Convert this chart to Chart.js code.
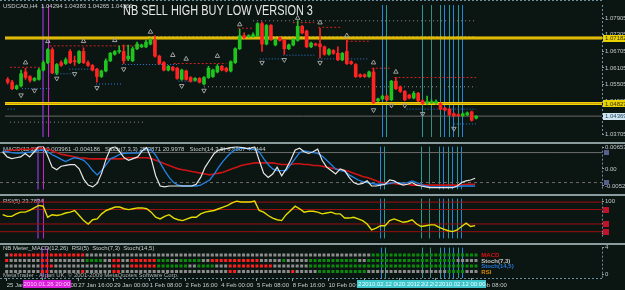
<!DOCTYPE html>
<html><head><meta charset="utf-8">
<script src="https://cdn.jsdelivr.net/npm/chart.js@4/dist/chart.umd.min.js"></script>
<style>
html,body{margin:0;padding:0;background:#0b1512;overflow:hidden}
#wrap{position:relative;width:625px;height:290px;background:#0b1512}
canvas{position:absolute;left:0}
</style></head><body><div id="wrap">
<canvas id="cMain" width="625" height="142" style="top:0px"></canvas>
<canvas id="cMacd" width="625" height="52" style="top:142px"></canvas>
<canvas id="cRsi" width="625" height="49" style="top:194px"></canvas>
<canvas id="cNb" width="625" height="47" style="top:243px"></canvas>
</div>
<script>
// ---------------- DATA ----------------
const open = [1.05694,1.05594,1.05359,1.05460,1.05962,1.05795,1.05661,1.05694,1.06029,1.06297,
1.06766,1.05929,1.06297,1.06264,1.06699,1.06364,1.06297,1.06699,1.06297,1.06197,
1.06063,1.05795,1.05996,1.06364,1.06599,1.06699,1.06699,1.06431,1.06364,1.06800,
1.06867,1.06867,1.06967,1.07101,1.06532,1.06297,1.06029,1.06130,1.06096,1.05694,
1.05996,1.05761,1.05661,1.05728,1.05527,1.05761,1.05795,1.05962,1.06163,1.06096,
1.05996,1.06297,1.06800,1.07269,1.07235,1.07235,1.07269,1.07704,1.06967,1.07637,
1.06934,1.07202,1.07101,1.06800,1.06934,1.07101,1.07604,1.07436,1.06867,1.06967,
1.06967,1.06867,1.06599,1.06733,1.06632,1.06398,1.06699,1.06331,1.06230,1.05862,
1.05862,1.05795,1.05962,1.04924,1.04991,1.05091,1.04957,1.05627,1.05426,1.05259,
1.05125,1.05024,1.05192,1.04924,1.04857,1.04857,1.04857,1.04823,1.04656,1.04622,
1.04455,1.04421,1.04388,1.04421,1.04522,1.04294];
const high = [1.05761,1.05661,1.05493,1.06029,1.06096,1.05828,1.05761,1.06096,1.06364,1.06800,
1.06833,1.06264,1.06364,1.06465,1.06766,1.06532,1.06733,1.06833,1.06364,1.06230,
1.06096,1.06029,1.06431,1.06666,1.06733,1.06900,1.06934,1.06934,1.06867,1.07034,
1.06967,1.07101,1.07168,1.07269,1.06565,1.06331,1.06197,1.06163,1.06130,1.06063,
1.06029,1.05795,1.05761,1.05761,1.05795,1.06163,1.06063,1.06230,1.06197,1.06130,
1.06364,1.06833,1.07503,1.07369,1.07302,1.07369,1.07738,1.07771,1.07671,1.07671,
1.07168,1.07235,1.07135,1.06967,1.07168,1.07805,1.07637,1.07470,1.07034,1.07001,
1.07537,1.06900,1.06800,1.06766,1.06867,1.06666,1.07135,1.06364,1.06264,1.05895,
1.05895,1.05996,1.06096,1.05024,1.05125,1.05125,1.05661,1.05761,1.05460,1.05292,
1.05158,1.05259,1.05225,1.04957,1.05091,1.04957,1.04957,1.04857,1.04689,1.04656,
1.04488,1.04455,1.04488,1.04522,1.04555,1.04383];
const low = [1.05527,1.05326,1.05326,1.05426,1.05694,1.05594,1.05627,1.05661,1.05996,1.06264,
1.05895,1.05862,1.06163,1.06230,1.06264,1.06197,1.06264,1.06264,1.06163,1.05996,
1.05594,1.05761,1.05962,1.06331,1.06565,1.06632,1.06264,1.06364,1.06331,1.06766,
1.06833,1.06833,1.06934,1.06498,1.06230,1.05996,1.05996,1.05996,1.05694,1.05661,
1.05661,1.05594,1.05627,1.05560,1.05493,1.05728,1.05761,1.05929,1.05996,1.05962,
1.05962,1.06264,1.06766,1.07168,1.07202,1.07202,1.07235,1.06699,1.06934,1.07101,
1.06900,1.07068,1.06599,1.06766,1.06900,1.07068,1.07336,1.06833,1.06833,1.06900,
1.06465,1.06565,1.06565,1.06599,1.06364,1.06364,1.06230,1.06230,1.05761,1.05761,
1.05761,1.05761,1.04823,1.04890,1.04957,1.04924,1.04924,1.05326,1.05225,1.04924,
1.04991,1.04991,1.04890,1.04790,1.04790,1.04823,1.04790,1.04589,1.04555,1.04388,
1.04354,1.04354,1.04354,1.04388,1.04187,1.04265];
const close = [1.05594,1.05359,1.05460,1.05895,1.05761,1.05661,1.05728,1.06029,1.06297,1.06766,
1.05929,1.06230,1.06197,1.06398,1.06297,1.06331,1.06699,1.06297,1.06197,1.06029,
1.05795,1.05996,1.06364,1.06632,1.06699,1.06733,1.06364,1.06532,1.06800,1.06967,
1.06934,1.07034,1.07101,1.06532,1.06264,1.06029,1.06163,1.06029,1.05728,1.06029,
1.05694,1.05627,1.05728,1.05594,1.05761,1.06096,1.06029,1.06163,1.06029,1.05996,
1.06331,1.06800,1.07269,1.07202,1.07269,1.07302,1.07704,1.06967,1.07637,1.07135,
1.07101,1.07101,1.06800,1.06934,1.07135,1.07604,1.07369,1.06867,1.07001,1.06934,
1.06867,1.06599,1.06766,1.06632,1.06398,1.06632,1.06264,1.06264,1.05795,1.05795,
1.05795,1.05962,1.04857,1.04991,1.05091,1.04957,1.05627,1.05359,1.05259,1.04957,
1.05024,1.05192,1.04924,1.04823,1.04890,1.04890,1.04890,1.04622,1.04589,1.04421,
1.04388,1.04388,1.04455,1.04488,1.04220,1.04369];

const priceTicks = [1.07905,1.07305,1.06705,1.06105,1.05505,1.04905,1.04305,1.03705];
const priceTickLabels = ['1.07905','1.07305','1.06705','1.06105','1.05505','1.04905','1.04305','1.03705'];
const levelLines = [1.07182, 1.04827];
const levelLabels = ['1.07182', '1.04827'];
const currentPrice = 1.04369;

const fracUpBar = [4,9,17,24,32,37,40,47,52,65,70,76,82,87];
const fracUpPrice = [1.06297,1.07068,1.07068,1.07101,1.07403,1.06565,1.06431,1.06532,1.07671,1.07905,1.07738,1.07269,1.06297,1.05962];
const fracDnBar = [3,6,11,15,20,26,39,44,57,62,70,82,86,89,93,100];
const fracDnPrice = [1.05125,1.05292,1.05728,1.05895,1.05393,1.06063,1.05460,1.05292,1.06297,1.06398,1.06297,1.04589,1.04756,1.04756,1.04455,1.03919];

// dotted levels: [fromBar, toBar, price]
const redSegs = [[0.5,7.2,1.06130],[9.4,31,1.06900],[37.2,49,1.06264],[51.6,55,1.07537],[63.9,68.7,1.07738],[69.6,75,1.07570],[76,81,1.07068],[81.6,86,1.06096],[86.7,105,1.05761]];
const blueSegs = [[0,1.6,1.04622],[3.2,9.4,1.05359],[10.5,14.5,1.05895],[13.8,19,1.06063],[19.8,25.4,1.05527],[25.6,38.3,1.06230],[38.3,44,1.05627],[56.5,61.6,1.06431],[61.8,68.7,1.06565],[69.6,81,1.06431],[81.6,89,1.04857],[89.4,105,1.04622],[100,105,1.04086]];
const graySegs = [[0.5,30.5,1.04153],[31.6,105,1.07235],[55,105,1.07805],[44,105,1.05426]];

const vLineBars = [7.85, 9.0, 83.8, 84.7, 92.9, 94.8, 96.9, 97.9, 98.9, 99.9, 101.0, 101.9];
const vLineLabels = ['', '2010.01.26 20:00', '2010.02.11 20:00', '2010.02.12 00:00', '2010.02.12 04:00', '2010.02.12 08:00', '2010.02.12 12:00', '2010.02.12 16:00', '2010.02.12 20:00', '2010.02.15 00:00', '2010.02.15 04:00', '2010.02.12 00:00'];

const timeBars = [0,8,16,24,32,40,48,56,64,72,80,88,96,104];
const timeLabels = ['25 Jan 2010','26 Jan 08:00','27 Jan 16:00','29 Jan 00:00','1 Feb 08:00','2 Feb 16:00','4 Feb 00:00','5 Feb 08:00','8 Feb 16:00','10 Feb 00:00','11 Feb 08:00','12 Feb 16:00','16 Feb 00:00','17 Feb 08:00'];

// MACD window
const macd = [0.00522,0.00548,0.00574,0.00574,0.00600,0.00600,0.00600,0.00626,0.00626,0.00626,
0.00600,0.00548,0.00496,0.00444,0.00418,0.00392,0.00365,0.00339,0.00326,0.00313,
0.00305,0.00305,0.00305,0.00305,0.00305,0.00305,0.00305,0.00313,0.00339,0.00339,
0.00339,0.00339,0.00339,0.00313,0.00261,0.00209,0.00157,0.00104,0.00052,0.00000,
-0.00026,-0.00052,-0.00078,-0.00104,-0.00131,-0.00157,-0.00183,-0.00157,-0.00131,-0.00104,
-0.00052,0.00000,0.00052,0.00104,0.00131,0.00157,0.00183,0.00183,0.00183,0.00183,
0.00183,0.00157,0.00131,0.00131,0.00131,0.00157,0.00157,0.00131,0.00131,0.00104,
0.00104,0.00078,0.00052,0.00026,0.00000,-0.00026,-0.00052,-0.00078,-0.00131,-0.00183,
-0.00235,-0.00261,-0.00313,-0.00365,-0.00418,-0.00444,-0.00444,-0.00444,-0.00470,-0.00470,
-0.00470,-0.00496,-0.00496,-0.00496,-0.00496,-0.00496,-0.00496,-0.00496,-0.00496,-0.00496,
-0.00496,-0.00496,-0.00496,-0.00470,-0.00470,-0.00470];
const macdTicks = [0.006532, 0, -0.005203];
const macdTickLabels = ['0.006532', '0.00', '-0.005203'];
const stochFast = [81.7,71.4,68,69.7,71.4,78.3,71.4,81.7,92,92.9,
73.1,50.9,45.7,52.6,54.3,56,56,47.4,26.9,14.9,
11.4,18.3,38.9,68,88.6,92,81.7,69.7,64.6,68,
71.4,83.4,90.3,68,33.7,13.1,11.4,13.1,13.1,13.1,
13.1,13.1,13.1,16.6,30.3,50.9,64.6,78.3,85.1,86.9,
88.6,90.3,92,90.3,88.6,88.6,92,64.6,38.9,30.3,
37.1,50.9,33.7,47.4,64.6,85.1,88.6,81.7,78.3,81.7,
86.9,64.6,50.9,44,37.1,47.4,44,30.3,20,16.6,
18.3,23.4,13.1,13.1,14.9,16.6,25.1,23.4,18.3,14.9,
16.6,20,14.9,13.1,11.4,9.7,9.7,9.7,9.7,9.7,
9.7,13.1,20,23.4,25.1,28.6];
const stochSlow = [83.1,81.7,80,79.1,79.1,80,80.9,81.7,84.3,85.1,
81.7,75.7,71.4,66.3,62,66.3,69.7,68,64.6,56,
44,35.4,44,56,68,71.4,76.6,78.3,78.8,78.8,
78.8,83.4,87.7,85.1,74.9,59.4,44,30.3,20,14.9,
13.1,13.1,13.1,13.1,14.9,20,25.1,37.1,50.9,62.9,
73.1,81.7,86.9,88.6,88.6,86.9,86.9,81.7,68,56,
47.4,44,44,44,56,68,80,83.4,81.7,80,
78.3,73.1,64.6,56,47.4,44,42.3,35.4,30.3,25.1,
21.7,20,18.3,16.6,16.6,16.6,18.3,20,20,18.3,
20,23.4,20,16.6,13.1,11.4,11.4,11.4,11.4,11.4,
11.4,11.4,13.1,13.1,13.1,13.1];
const stochLevels = [80, 20];

// RSI window
const rsi = [57.9,52.6,52.6,60.5,65.8,65.8,71,78.9,86.8,84.2,
50,57.9,55.3,57.9,63.2,65.8,71,55.3,39.5,28.9,
42.1,44.7,60.5,71,76.3,81.6,81.6,76.3,73.7,76.3,
78.9,78.9,76.3,65.8,50,44.7,52.6,57.9,47.4,42.1,
39.5,44.7,50,50,60.5,65.8,68.4,71,76.3,81.6,
86.8,94.7,100,97.4,97.4,97.4,100,71,65.8,55.3,
47.4,42.1,39.5,57.9,71,84.2,76.3,65.8,68.4,68.4,
65.8,60.5,63.2,65.8,60.5,60.5,47.4,47.4,50,44.7,
39.5,28.9,10.5,15.8,23.7,23.7,39.5,44.7,39.5,34.2,
36.8,42.1,28.9,21,23.7,26.3,26.3,18.4,13.2,7.9,
5.3,10.5,21,31.6,21,23.78];
const rsiLevels = [97, 74, 29, 5];
const rsiTicks = [100, 0];
const rsiTickLabels = ['100', '0'];

// NB meter window: R = red, G = green, S = grey (one char per bar)
const nbMacd  = 'SRRRRRRRRR RRRRRRRRSS SSSSSSSSSS SSSSSSSSSS SSSSSSSSSS SSSSSSSSSS SSSSSSSSSS SSSSSSSSSS SSGGGGGGGG GGGGGGGGGG GGGGGG';
const nbStoch7 = 'RSSSSSSSRR SSSSSSSSGG GGSSRRSSRR RRRRGGGSSG GGGGSSRRRR RRRRRRRSSS SSGSSSSSGG GGGGGGGGGS SGGGGGGGGG GGGGGGGGGG GSSSSS';
const nbStoch14 = 'SSSSSSSSRR RSSSSSSSSS SSSSRRSSRR RRRRGGGGGG GSSGGGGSSS RRRRRRRRRR SSSSSSSSGG GGGGGGGGGG GGGGGGGGGG GGGGGGGGGG GGGGGG';
const nbRsi   = 'SSSSSSSSRR SSSSSSSRSS SSSSRRSSSS SSSSSSSSSS SSSSSSSSSS RRSSSSSSSS SSSSRSSSSS GGGGGGGGGG GSSSSSSSSS SSSSSSSSSG GGGSSS';
const nbRows = [nbMacd, nbStoch7, nbStoch14, nbRsi];
const nbRowValues = [3.5, 2.5, 1.5, 0.5];
const nbNames = ['MACD', 'Stoch(7,3)', 'Stoch(14,5)', 'RSI'];
const nbTicks = [4.83, 0];
const nbTickLabels = ['4', '0'];

// ---------------- STYLE / HELPERS ----------------
const FONT = '"Liberation Sans", Arial, sans-serif';
const TXT = '#c4cccc';
const GREEN = '#1fc41f', RED = '#ff2424';
const xMin = -0.6, xMax = 133.2;
const bars = open.map((_, i) => i);
const isUp = i => close[i] >= open[i];
const vLineColors = ['#5c2a8c','#d41ed4','#2385e0','#2a9a96','#2a9a96','#3e8a80','#2a9a96','#2385e0','#2a9a96','#2385e0','#2a9a96','#2385e0'];
const vLineWidths = [2,1,1,1,1,1,1,1,1,1,1,1];

function segData(segs){ const d=[]; segs.forEach(s=>{ d.push({x:s[0],y:s[2]},{x:s[1],y:s[2]},{x:s[1],y:null}); }); return d; }
function hline(v){ return [{x:xMin,y:v},{x:xMax,y:v}]; }
function xAxis(display){ return {type:'linear', min:xMin, max:xMax, display:display, offset:false, grid:{offset:false}}; }
function yAxis(min, max, ticks, labels, extra){
  return Object.assign({type:'linear', position:'right', min, max, beginAtZero:false,
    afterFit(s){ s.width = 23; },
    afterBuildTicks(s){ s.ticks = ticks.map(v => ({value:v})); },
    ticks:{autoSkip:false, color:TXT, font:{size:6, family:FONT}, padding:1, callback:(v,i)=>labels[i]},
    grid:{drawOnChartArea:false, color:'#8fa0a8', tickLength:2},
    border:{display:false}}, extra||{});
}
const baseOpts = {responsive:false, maintainAspectRatio:false, animation:false, devicePixelRatio:1, events:[],
  plugins:{legend:{display:false}, tooltip:{enabled:false}}};

function drawVLines(c){
  const {ctx, chartArea:a, scales:{x}} = c;
  ctx.save();
  vLineBars.forEach((b,k)=>{
    const px = Math.round(x.getPixelForValue(b)) + (vLineWidths[k]%2 ? 0.5 : 0);
    ctx.strokeStyle = vLineColors[k]; ctx.lineWidth = vLineWidths[k];
    ctx.beginPath(); ctx.moveTo(px, a.top); ctx.lineTo(px, a.bottom); ctx.stroke();
  });
  ctx.restore();
}
function drawFrame(c, topSep, bottomDash){
  const {ctx, chartArea:a} = c;
  ctx.save();
  if (topSep){ ctx.fillStyle = '#8a9c9e'; ctx.fillRect(0, 0, 625, 2); }
  ctx.strokeStyle = '#6d8fa0'; ctx.lineWidth = 1; ctx.setLineDash([2,2]);
  ctx.beginPath(); ctx.moveTo(a.right+0.5, a.top); ctx.lineTo(a.right+0.5, a.bottom); ctx.stroke();
  if (!topSep){ ctx.beginPath(); ctx.moveTo(0, 0.5); ctx.lineTo(a.right, 0.5); ctx.stroke(); }
  if (bottomDash){ ctx.beginPath(); ctx.moveTo(0, a.bottom+0.5); ctx.lineTo(a.right, a.bottom+0.5); ctx.stroke(); }
  ctx.restore();
}
function text(ctx, s, x, y, color, size, weight){
  ctx.font = (weight||'') + ' ' + (size||6) + 'px ' + FONT;
  ctx.fillStyle = color || TXT; ctx.textBaseline = 'alphabetic'; ctx.textAlign = 'left';
  ctx.fillText(s, x, y);
}
function axisBox(c, scaleId, v, label, fill, color){
  const {ctx, chartArea:a} = c; const y = c.scales[scaleId].getPixelForValue(v);
  ctx.save(); ctx.fillStyle = fill; ctx.fillRect(a.right+1, Math.round(y-3.5), 22, 7);
  ctx.font = '6px ' + FONT; ctx.fillStyle = color; ctx.textBaseline = 'middle'; ctx.textAlign = 'left';
  ctx.fillText(label, a.right+3, y+0.5); ctx.restore();
}

// ---------------- MAIN CHART ----------------
new Chart(document.getElementById('cMain'), {
  type:'bar',
  data:{datasets:[
    {type:'line', data:segData(graySegs), borderColor:'#8e8e8e', borderWidth:1, borderDash:[1,3], pointRadius:0, spanGaps:false, order:30},
    {type:'line', data:segData(redSegs), borderColor:'#d22222', borderWidth:1, borderDash:[2,2], pointRadius:0, spanGaps:false, order:30},
    {type:'line', data:segData(blueSegs), borderColor:'#2f7fd6', borderWidth:1, borderDash:[1,2], pointRadius:0, spanGaps:false, order:30},
    {type:'line', data:hline(currentPrice), borderColor:'#6a6a6a', borderWidth:1, pointRadius:0, order:29},
    {type:'line', data:hline(levelLines[0]), borderColor:'#f2d400', borderWidth:3, pointRadius:0, order:28},
    {type:'line', data:hline(levelLines[1]), borderColor:'#f2d400', borderWidth:3, pointRadius:0, order:28},
    {type:'line', data:hline(levelLines[0]), borderColor:'#c88c14', borderWidth:0.8, pointRadius:0, order:27},
    {type:'line', data:hline(levelLines[1]), borderColor:'#c88c14', borderWidth:0.8, pointRadius:0, order:27},
    {data:bars.map(i=>({x:i,y:[low[i],high[i]]})), backgroundColor:bars.map(i=>isUp(i)?GREEN:RED), barThickness:1, grouped:false, order:6},
    {data:bars.map(i=>({x:i,y:[open[i],close[i]]})), backgroundColor:bars.map(i=>isUp(i)?GREEN:RED), barThickness:3, minBarLength:1, grouped:false, order:5},
    {type:'line', data:fracUpBar.map((b,k)=>({x:b,y:fracUpPrice[k]})), showLine:false, pointStyle:'triangle', pointRadius:2.6, pointBorderColor:'#a0a0a0', pointBackgroundColor:'rgba(0,0,0,0)', pointBorderWidth:1, order:1},
    {type:'line', data:fracDnBar.map((b,k)=>({x:b,y:fracDnPrice[k]})), showLine:false, pointStyle:'triangle', pointRotation:180, pointRadius:2.6, pointBorderColor:'#a0a0a0', pointBackgroundColor:'rgba(0,0,0,0)', pointBorderWidth:1, order:1}
  ]},
  options:Object.assign({}, baseOpts, {
    layout:{padding:0},
    scales:{x:xAxis(false), y:yAxis(1.03617, 1.08374, priceTicks, priceTickLabels)}
  }),
  plugins:[{id:'mainDeco',
    beforeDatasetsDraw(c){ drawVLines(c); },
    afterDatasetsDraw(c){
      const ctx = c.ctx;
      text(ctx, 'USDCAD,H4  1.04294 1.04383 1.04265 1.04369', 3, 8, TXT, 6);
      ctx.save(); ctx.translate(123, 15); ctx.scale(0.78, 1);
      ctx.font = '14px ' + FONT; ctx.fillStyle = '#e6e6e6'; ctx.textBaseline = 'alphabetic';
      ctx.fillText('NB SELL HIGH BUY LOW VERSION 3', 0, 0); ctx.restore();
    },
    afterDraw(c){
      drawFrame(c, false, false);
      levelLines.forEach((v,k)=>axisBox(c, 'y', v, levelLabels[k], '#e8d200', '#3a3000'));
      axisBox(c, 'y', currentPrice, '1.04369', '#cfe6ee', '#1c3c5c');
    }}]
});

// ---------------- MACD + STOCH WINDOW ----------------
new Chart(document.getElementById('cMacd'), {
  type:'line',
  data:{datasets:[
    {data:hline(stochLevels[0]), yAxisID:'ys', borderColor:'#6e6e6e', borderWidth:1, pointRadius:0, order:20},
    {data:hline(stochLevels[1]), yAxisID:'ys', borderColor:'#6e6e6e', borderWidth:1, borderDash:[3,3], pointRadius:0, order:20},
    {data:bars.map(i=>({x:i,y:macd[i]})), yAxisID:'y', borderColor:'#cc1414', borderWidth:1.6, pointRadius:0, order:3},
    {data:bars.map(i=>({x:i,y:stochSlow[i]})), yAxisID:'ys', borderColor:'#2383e6', borderWidth:1.3, pointRadius:0, order:2},
    {data:bars.map(i=>({x:i,y:stochFast[i]})), yAxisID:'ys', borderColor:'#e8e8e8', borderWidth:1.2, pointRadius:0, order:1}
  ]},
  options:Object.assign({}, baseOpts, {
    layout:{padding:{top:2}},
    scales:{x:xAxis(false), y:yAxis(-0.006264, 0.006786, macdTicks, macdTickLabels),
      ys:{type:'linear', display:false, min:6.3, max:92}}
  }),
  plugins:[{id:'macdDeco',
    beforeDatasetsDraw(c){
      drawVLines(c);
      text(c.ctx, 'MACD(12,26,9) 0.003961 -0.004186   Stoch(7,3,3) 25.3871 20.9978   Stoch(14,3,5) 6.6667 4.4444', 3, 9, TXT, 6);
    },
    afterDraw(c){
      drawFrame(c, true, false);
      const {ctx, chartArea:a} = c; ctx.save(); ctx.fillStyle = '#56608a';
      stochLevels.forEach(v=>{ const y = c.scales.ys.getPixelForValue(v); ctx.fillRect(a.right+2, Math.round(y-2.5), 5, 5); });
      ctx.restore();
    }}]
});

// ---------------- RSI WINDOW ----------------
new Chart(document.getElementById('cRsi'), {
  type:'line',
  data:{datasets:[
    ...rsiLevels.map(v=>({data:hline(v), borderColor:'#9c1010', borderWidth:1, pointRadius:0, order:20})),
    {data:bars.map(i=>({x:i,y:rsi[i]})), borderColor:'#e6dc00', borderWidth:1.4, pointRadius:0, order:1}
  ]},
  options:Object.assign({}, baseOpts, {
    layout:{padding:{top:2}},
    scales:{x:xAxis(false), y:yAxis(-15.8, 107.9, rsiTicks, rsiTickLabels)}
  }),
  plugins:[{id:'rsiDeco',
    beforeDatasetsDraw(c){ drawVLines(c); text(c.ctx, 'RSI(5) 23.7834', 3, 9, TXT, 6); },
    afterDraw(c){
      drawFrame(c, true, false);
      const {ctx, chartArea:a} = c; ctx.save(); ctx.fillStyle = '#c0102a';
      rsiLevels.slice(1).forEach(v=>{ const y = c.scales.y.getPixelForValue(v); ctx.fillRect(a.right+1, Math.round(y-3), 6, 6); });
      ctx.restore();
    }}]
});

// ---------------- NB METER WINDOW + TIME AXIS ----------------
const stateColor = {R:'#ff1e1e', G:'#0b8a0b', S:'#8c8c8c'};
new Chart(document.getElementById('cNb'), {
  type:'line',
  data:{datasets: nbRows.map((row,k)=>{ const st = row.replace(/ /g,'').split('');
    return {data:st.map((s,i)=>({x:i,y:nbRowValues[k]})), showLine:false, pointStyle:'rect', pointRadius:2.15,
      pointBackgroundColor:st.map(s=>stateColor[s]), pointBorderWidth:0, order:1}; })},
  options:Object.assign({}, baseOpts, {
    layout:{padding:{top:2}},
    scales:{
      x:{type:'linear', min:xMin, max:xMax, offset:false, position:'bottom',
        afterFit(s){ s.height = 12; },
        afterBuildTicks(s){ s.ticks = timeBars.map(v=>({value:v})); },
        ticks:{autoSkip:false, maxRotation:0, minRotation:0, align:'start', color:TXT, font:{size:6, family:FONT}, padding:1, callback:(v,i)=>timeLabels[i]},
        grid:{drawOnChartArea:false, color:'#8fa0a8', tickLength:3, offset:false},
        border:{display:false}},
      y:yAxis(-0.667, 4.833, nbTicks, nbTickLabels)
    }
  }),
  plugins:[{id:'nbDeco',
    beforeDatasetsDraw(c){
      drawVLines(c);
      text(c.ctx, 'NB Meter_MACD(12,26)  RSI(5)  Stoch(7,3)  Stoch(14,5)', 3, 6.5, TXT, 6);
      text(c.ctx, 'MetaTrader - Alpari UK, \u00a9 2001-2009 MetaQuotes Software Corp.', 3, 34, '#a8b0b0', 6);
    },
    afterDraw(c){
      drawFrame(c, true, true);
      const {ctx, chartArea:a, scales:{x}} = c;
      const nbColors = ['#e01010', '#c8c8c8', '#2a78d8', '#e08a00'];
      nbNames.forEach((n,k)=>{ const y = c.scales.y.getPixelForValue(nbRowValues[k]) + 2.2;
        text(ctx, n, x.getPixelForValue(106.2), y, nbColors[k], 6, 'bold'); });
      // labels of vertical lines on the time scale
      ctx.save(); ctx.font = '6px ' + FONT; ctx.textBaseline = 'middle'; ctx.textAlign = 'center';
      vLineBars.forEach((b,k)=>{ if (!vLineLabels[k]) return;
        const px = x.getPixelForValue(b); const w = 48; const yb = a.bottom + 2;
        const magenta = k === 1;
        ctx.fillStyle = magenta ? '#dd20dd' : '#3ec6cc'; ctx.fillRect(Math.round(px - w/2), yb, w, 8);
        ctx.fillStyle = magenta ? '#ffc8ff' : '#e8ffff'; ctx.fillText(vLineLabels[k], px, yb + 4.5);
      });
      ctx.restore();
    }}]
});
</script></body></html>
